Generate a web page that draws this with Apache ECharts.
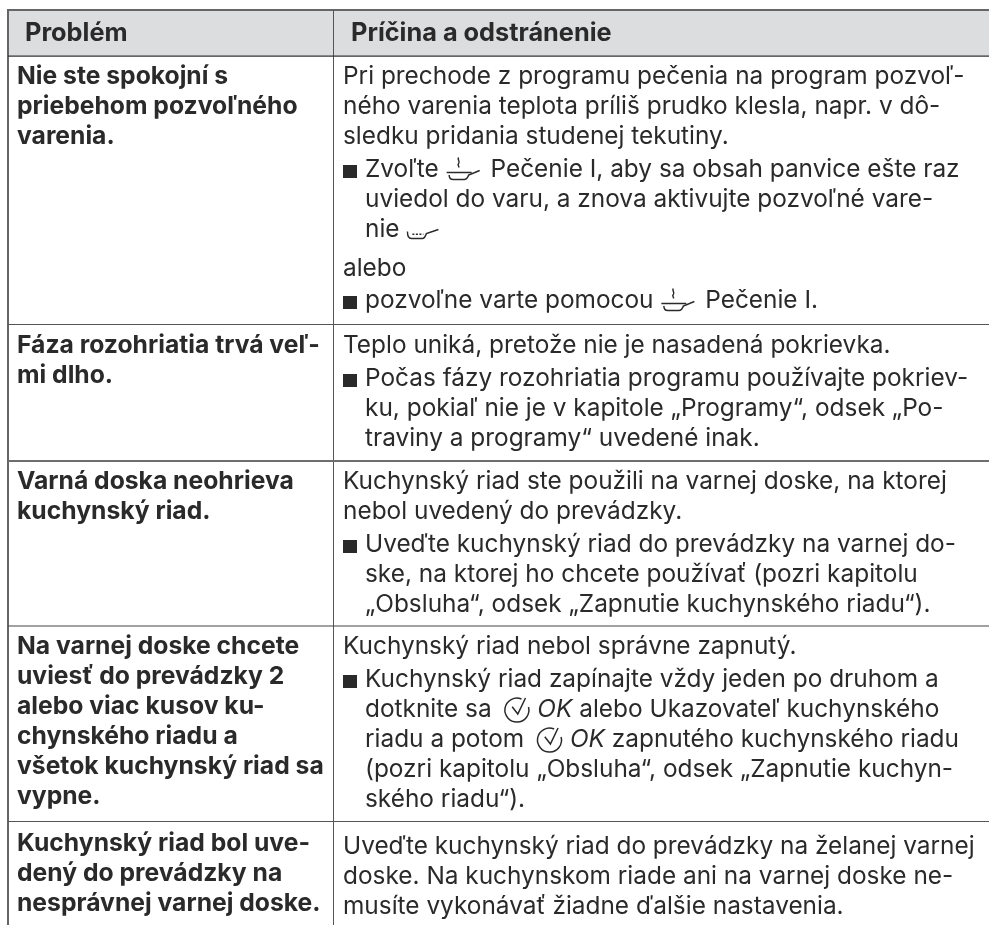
<!DOCTYPE html>
<html>
<head>
<meta charset="utf-8">
<title>Problém</title>
<script src="https://cdn.jsdelivr.net/npm/echarts@6/dist/echarts.min.js"></script>
<style>
html, body { margin: 0; padding: 0; background: #fff; }
#chart { width: 989px; height: 925px; }
</style>
</head>
<body>
<div id="chart"></div>
<script>
const headers = ['Problém', 'Príčina a odstránenie'];

const problems = [
    ['Nie ste spokojní s', 'priebehom pozvoľného', 'varenia.'],
    ['Fáza rozohriatia trvá veľ-', 'mi dlho.'],
    ['Varná doska neohrieva', 'kuchynský riad.'],
    ['Na varnej doske chcete', 'uviesť do prevádzky 2', 'alebo viac kusov ku-', 'chynského riadu a', 'všetok kuchynský riad sa', 'vypne.'],
    ['Kuchynský riad bol uve-', 'dený do prevádzky na', 'nesprávnej varnej doske.'],
];

// each cause is a list of paragraphs, * marks a bullet paragraph
const causes = [
    [
        ['Pri prechode z programu pečenia na program pozvoľ-', 'ného varenia teplota príliš prudko klesla, napr. v dô-', 'sledku pridania studenej tekutiny.'],
        ['*Zvoľte {steam|} Pečenie I, aby sa obsah panvice ešte raz', 'uviedol do varu, a znova aktivujte pozvoľné vare-', 'nie {slow|}'],
        ['alebo'],
        ['*pozvoľne varte pomocou {steam|} Pečenie I.'],
    ],
    [
        ['Teplo uniká, pretože nie je nasadená pokrievka.'],
        ['*Počas fázy rozohriatia programu používajte pokriev-', 'ku, pokiaľ nie je v kapitole „Programy“, odsek „Po-', 'traviny a programy“ uvedené inak.'],
    ],
    [
        ['Kuchynský riad ste použili na varnej doske, na ktorej', 'nebol uvedený do prevádzky.'],
        ['*Uveďte kuchynský riad do prevádzky na varnej do-', 'ske, na ktorej ho chcete používať (pozri kapitolu', '„Obsluha“, odsek „Zapnutie kuchynského riadu“).'],
    ],
    [
        ['Kuchynský riad nebol správne zapnutý.'],
        ['*Kuchynský riad zapínajte vždy jeden po druhom a', 'dotknite sa {check|} {ok|OK} alebo Ukazovateľ kuchynského', 'riadu a potom {check|} {ok|OK} zapnutého kuchynského riadu', '(pozri kapitolu „Obsluha“, odsek „Zapnutie kuchyn-', 'ského riadu“).'],
    ],
    [
        ['Uveďte kuchynský riad do prevádzky na želanej varnej', 'doske. Na kuchynskom riade ani na varnej doske ne-', 'musíte vykonávať žiadne ďalšie nastavenia.'],
    ],
];

const font = 'Inter';
const ink = '#2b2a2b';
const bodySize = 24.4, boldSize = 24.7, headSize = 25.3;
const rowTops = [56, 325, 461, 626, 822];
const lineH = 30;
const icon = svg => 'data:image/svg+xml;charset=utf-8,' + encodeURIComponent(svg);
const steamSvg = '<svg xmlns="http://www.w3.org/2000/svg" width="38" height="30" viewBox="0 0 38 30"><g fill="none" stroke="#2b2a2b" stroke-width="1.5" transform="translate(1 0)"><path d="M12 3c-2 2 2 4 0 6s1 2 0 4"/><path d="M0 18H25"/><path d="M2.500 20.500c0 3 1 4.500 4 4.500h11c2.500 0 3.500-1.500 4.500-4.500l11-4.500"/></g></svg>';
const slowSvg = '<svg xmlns="http://www.w3.org/2000/svg" width="33" height="30" viewBox="0 0 33 30"><g fill="none" stroke="#2b2a2b" stroke-width="1.5"><path d="M1 17c0 4 1 7 4 7h11c2 0 3-2 4-5l12-4"/><path d="M6 19.800h11" stroke-dasharray="2 1.500"/></g></svg>';
const checkSvg = '<svg xmlns="http://www.w3.org/2000/svg" width="32" height="30" viewBox="0 0 32 30"><g fill="none" stroke="#2b2a2b" stroke-width="1.5" transform="translate(6 0)"><path d="M17 4.500a12 12 0 1 0 7 8"/><path d="M7.700 12.200l5.600 7.300 7.700-16"/></g></svg>';

const rich = {
    steam: { width: 38, height: lineH, backgroundColor: { image: icon(steamSvg) } },
    slow: { width: 33, height: lineH, backgroundColor: { image: icon(slowSvg) } },
    check: { width: 32, height: lineH, backgroundColor: { image: icon(checkSvg) } },
    ok: { fontFamily: font, fontSize: bodySize, fontStyle: 'italic', fill: ink, lineHeight: lineH },
};

function textEl(text, x, baseline, size, weight) {
    return {
        type: 'text', x: x, y: baseline - 8.5, silent: true,
        style: {
            text: text, fontFamily: font, fontSize: size, fontWeight: weight, fill: ink,
            verticalAlign: 'middle', lineHeight: lineH, rich: rich,
        },
    };
}
function rectEl(x, y, w, h, color) {
    return { type: 'rect', silent: true, shape: { x: x, y: y, width: w, height: h }, style: { fill: color } };
}

const elements = [];
elements.push(rectEl(8, 10, 981, 46, '#dcddde'));
elements.push(rectEl(8, 9, 981, 2, '#666666'));
elements.push(rectEl(7, 9, 2, 916, '#666666'));
elements.push(rectEl(333, 10, 1, 915, '#555555'));
elements.push(rectEl(8, 55.5, 981, 1.2, '#333333'));
elements.push(rectEl(8, 324, 981, 1, '#555555'));
elements.push(rectEl(8, 460, 981, 2, '#6e6e6e'));
elements.push(rectEl(8, 625.5, 981, 1, '#444444'));
elements.push(rectEl(8, 821, 981, 1, '#555555'));

elements.push(textEl(headers[0], 25, 42, headSize, 700));
elements.push(textEl(headers[1], 351, 42, headSize, 700));

problems.forEach((lines, r) => {
    const first = rowTops[r] + (r === 4 ? 30 : 29);
    lines.forEach((t, i) => elements.push(textEl(t, 17, first + i * lineH, boldSize, 700)));
});
causes.forEach((paras, r) => {
    let y = rowTops[r] + (r === 4 ? 33 : 29);
    paras.forEach((para, p) => {
        para.forEach((t, i) => {
            const bullet = t[0] === '*';
            if (bullet) elements.push(rectEl(343, y - 13, 14, 13, '#2b2a2b'));
            const indented = para[0][0] === '*';
            elements.push(textEl(bullet ? t.slice(1) : t, indented ? 365 : 343, y, bodySize, 400));
            if (i < para.length - 1) y += lineH;
        });
        if (p < paras.length - 1) {
            const next = paras[p + 1][0];
            y += lineH + (next === 'alebo' ? 9 : next[0] === '*' ? (para[0] === 'alebo' ? 2 : 3) : 0);
        }
    });
});

const chart = echarts.init(document.getElementById('chart'), null, { renderer: 'canvas' });
chart.setOption({
    animation: false,
    backgroundColor: '#ffffff',
    graphic: { elements: elements },
});
</script>
</body>
</html>
